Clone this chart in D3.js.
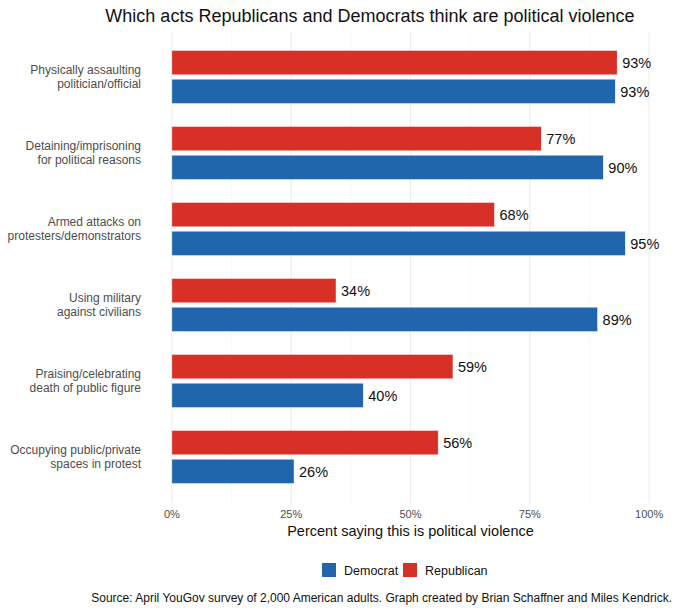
<!DOCTYPE html>
<html>
<head>
<meta charset="utf-8">
<script src="https://cdn.jsdelivr.net/npm/d3@7"></script>
<style>
  html, body { margin: 0; padding: 0; background: #fff; }
  svg { display: block; font-family: "Liberation Sans", Arial, Helvetica, sans-serif; }
</style>
</head>
<body>
<svg id="chart" width="680" height="612"></svg>
<script>
const categories = [
  ["Physically assaulting", "politician/official"],
  ["Detaining/imprisoning", "for political reasons"],
  ["Armed attacks on", "protesters/demonstrators"],
  ["Using military", "against civilians"],
  ["Praising/celebrating", "death of public figure"],
  ["Occupying public/private", "spaces in protest"]
];
const republican = [93.3, 77.4, 67.6, 34.4, 58.9, 55.8];
const democrat   = [92.9, 90.4, 95.0, 89.2, 40.1, 25.6];
const xTicks = [0, 25, 50, 75, 100];
const xMinor = [12.5, 37.5, 62.5, 87.5];
const seriesNames = ["Republican", "Democrat"];
const legendOrder = ["Democrat", "Republican"];
const colors = { Republican: "#d73027", Democrat: "#2166ac" };
const title = "Which acts Republicans and Democrats think are political violence";
const xTitle = "Percent saying this is political violence";
const source = "Source: April YouGov survey of 2,000 American adults. Graph created by Brian Schaffner and Miles Kendrick.";

const svg = d3.select("#chart");
const panel = { left: 148, right: 673, top: 32, bottom: 503 };

const x = d3.scaleLinear().domain([-5, 105]).range([panel.left, panel.right]);
const catKeys = categories.map(c => c.join(" "));
const y0 = d3.scaleBand().domain(catKeys)
  .range([panel.top + 7, panel.bottom - 8])
  .paddingInner(0.3).paddingOuter(0.15);
const y1 = d3.scaleBand().domain(seriesNames)
  .range([0, y0.bandwidth()]).paddingInner(0.15);

// grid
const g = svg.append("g");
g.selectAll("line.minor").data(xMinor).join("line")
  .attr("x1", d => x(d)).attr("x2", d => x(d))
  .attr("y1", panel.top).attr("y2", panel.bottom)
  .attr("stroke", "#f3f3f3").attr("stroke-width", 0.6);
g.selectAll("line.major").data(xTicks).join("line")
  .attr("x1", d => x(d)).attr("x2", d => x(d))
  .attr("y1", panel.top).attr("y2", panel.bottom)
  .attr("stroke", "#ebebeb").attr("stroke-width", 1.1);

// data rows
const rows = catKeys.map((k, i) => ({ key: k, lines: categories[i],
  vals: [{ s: "Republican", v: republican[i] }, { s: "Democrat", v: democrat[i] }] }));

const grp = svg.append("g").selectAll("g").data(rows).join("g")
  .attr("transform", d => `translate(0,${y0(d.key)})`);

grp.selectAll("rect").data(d => d.vals).join("rect")
  .attr("x", x(0))
  .attr("y", d => y1(d.s))
  .attr("width", d => x(d.v) - x(0))
  .attr("height", y1.bandwidth())
  .attr("fill", d => colors[d.s])
  .attr("stroke", "#ffffff").attr("stroke-width", 0.5);

grp.selectAll("text.val").data(d => d.vals).join("text")
  .attr("class", "val")
  .attr("x", d => x(d.v) + 5)
  .attr("y", d => y1(d.s) + y1.bandwidth() / 2)
  .attr("dy", "0.36em")
  .attr("font-size", 14.5)
  .attr("fill", "#111")
  .text(d => Math.round(d.v) + "%");

// y axis labels
const yl = svg.append("g").selectAll("text").data(rows).join("text")
  .attr("x", 141)
  .attr("y", d => y0(d.key) + y0.bandwidth() / 2)
  .attr("text-anchor", "end")
  .attr("font-size", 12)
  .attr("fill", "#4d4d4d");
yl.selectAll("tspan").data(d => d.lines).join("tspan")
  .attr("x", 141)
  .attr("dy", (d, i) => i === 0 ? "-0.22em" : "1.1em")
  .text(d => d);

// x tick labels
svg.append("g").selectAll("text").data(xTicks).join("text")
  .attr("x", d => x(d)).attr("y", 518)
  .attr("text-anchor", "middle")
  .attr("font-size", 11)
  .attr("fill", "#4d4d4d")
  .text(d => d + "%");

// x title
svg.append("text")
  .attr("x", (panel.left + panel.right) / 2).attr("y", 536)
  .attr("text-anchor", "middle")
  .attr("font-size", 14.5).attr("fill", "#111")
  .text(xTitle);

// title
svg.append("text")
  .attr("x", 370).attr("y", 22)
  .attr("text-anchor", "middle")
  .attr("font-size", 18).attr("fill", "#111")
  .text(title);

// legend
const legX = { Democrat: 322, Republican: 403 };
const leg = svg.append("g").selectAll("g").data(legendOrder).join("g")
  .attr("transform", d => `translate(${legX[d]},563)`);
leg.append("rect").attr("width", 14).attr("height", 14)
  .attr("fill", d => colors[d]);
leg.append("text").attr("x", 22).attr("y", 7).attr("dy", "0.36em")
  .attr("font-size", 12.5).attr("fill", "#111")
  .text(d => d);

// source
svg.append("text")
  .attr("x", 672).attr("y", 602)
  .attr("text-anchor", "end")
  .attr("font-size", 12).attr("fill", "#111")
  .text(source);
</script>
</body>
</html>
